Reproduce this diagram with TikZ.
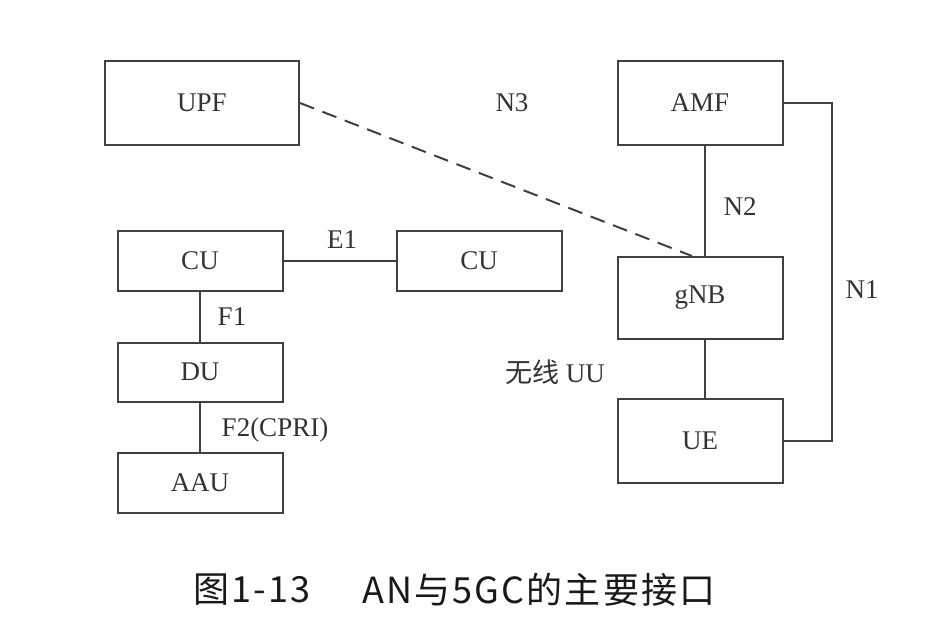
\documentclass[tikz,border=0pt]{standalone}
\usepackage{fontspec}
\setmainfont{Liberation Serif}
\newfontfamily\cjk{Noto Sans CJK SC}
\newfontfamily\cjkwide[LetterSpace=6]{Noto Sans CJK SC}

\begin{document}
\begin{tikzpicture}[x = 1pt, y = -1pt,
    box/.style = {draw = black!75, line width = 2pt, minimum width = 165pt,
        minimum height = 60pt, inner sep = 0pt, text = black!80,
        font = \fontsize{27}{27}\selectfont},
    lbl/.style = {inner sep = 0pt, text = black!80, font = \fontsize{27}{27}\selectfont},
    figcaption/.style = {inner sep = 0pt, anchor = west, text = black!90,
        font = \cjkwide\fontsize{36}{36}\selectfont},
    wire/.style = {draw = black!75, line width = 2pt}]
    \useasboundingbox (0,0) rectangle (930,635);
    % core side
    \node[box, minimum width = 194pt, minimum height = 84pt] (upf) at (202,103) {UPF};
    \node[box, minimum height = 84pt] (amf) at (700,103) {AMF};
    \node[box, minimum height = 82pt] (gnb) at (700,298) {gNB};
    \node[box, minimum height = 84pt] (ue) at (700,441) {UE};
    % split RAN
    \node[box] (cuA) at (200,261) {CU};
    \node[box] (cuB) at (479,261) {CU};
    \node[box, minimum height = 59pt] (du) at (200,372) {DU};
    \node[box] (aau) at (200,483) {AAU};

    \draw[wire, dash pattern = on 15pt off 9pt] (upf.east) -- ([xshift = -8pt]gnb.north);
    \draw[wire] ([xshift = 5pt]amf.south) -- ([xshift = 5pt]gnb.north);
    \draw[wire] ([xshift = 5pt]gnb.south) -- ([xshift = 5pt]ue.north);
    \draw[wire] (amf.east) -- ++(48,0) |- (ue.east);
    \draw[wire] (cuA) -- (cuB);
    \draw[wire] (cuA) -- (du);
    \draw[wire] (du) -- (aau);

    \node[lbl] (n3) at (512,103) {N3};
    \node[lbl] (n2) at (740,207) {N2};
    \node[lbl] (n1) at (862,290) {N1};
    \node[lbl] (uu) at (555,372) {{\cjk 无线} UU};
    \node[lbl] (e1) at (342,240) {E1};
    \node[lbl] (f1) at (232,317) {F1};
    \node[lbl] (f2) at (275,430) {F2(CPRI)};

    \node[figcaption] (capA) at (193,590) {图1-13};
    \node[figcaption] (capB) at (362,590) {AN与5GC的主要接口};
\end{tikzpicture}
\end{document}
